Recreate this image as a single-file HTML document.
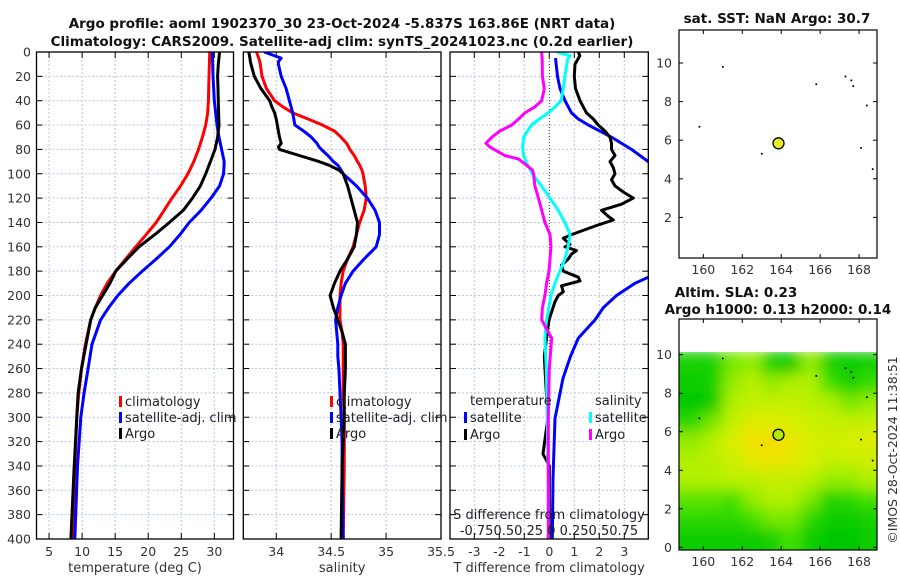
<!DOCTYPE html>
<html><head><meta charset="utf-8"><style>
html,body{margin:0;padding:0;background:#fff;}
svg{display:block;font-family:"DejaVu Sans","Liberation Sans",sans-serif;}
</style></head><body>
<svg id="fig" width="900" height="580" viewBox="0 0 900 580">
<defs>
<clipPath id="c1"><rect x="36.5" y="52" width="197" height="487"/></clipPath>
<clipPath id="c2"><rect x="243.3" y="52" width="197.7" height="487"/></clipPath>
<clipPath id="c3"><rect x="450" y="52" width="198.3" height="487"/></clipPath>
<clipPath id="cm"><rect x="679" y="352" width="198" height="198"/></clipPath>
<filter id="blur" x="-10%" y="-10%" width="120%" height="120%"><feGaussianBlur stdDeviation="7"/></filter>
</defs>
<g id="titles" font-weight="bold" font-size="13.5" fill="#111" text-anchor="middle">
<text x="342" y="28">Argo profile: aoml 1902370_30 23-Oct-2024 -5.837S 163.86E (NRT data)</text>
<text x="342" y="46">Climatology: CARS2009. Satellite-adj clim: synTS_20241023.nc (0.2d earlier)</text>
<text x="777" y="23">sat. SST: NaN Argo: 30.7</text>
<text x="736" y="297">Altim. SLA: 0.23</text>
<text x="778" y="314">Argo h1000: 0.13 h2000: 0.14</text>
</g>
<text x="897" y="450" font-size="12.5" fill="#333" text-anchor="middle" transform="rotate(-90 897 450)">©IMOS 28-Oct-2024 11:38:51</text>
<g id="layer"></g>
</svg>
<script>
// ---- depth axis ----
const depthTicks = [0,20,40,60,80,100,120,140,160,180,200,220,240,260,280,300,320,340,360,380,400];
// ---- temperature panel ----
const tempTicks = [5,10,15,20,25,30];
const depthT = [0,10,20,30,40,50,60,70,80,90,100,110,120,130,140,150,160,170,180,190,200,210,220,240,260,280,300,340,400];
const tempClim = [29.3,29.25,29.2,29.15,29.1,29.0,28.7,28.2,27.6,26.9,26.0,24.9,23.6,22.4,21.2,19.7,18.1,16.6,15.1,13.8,12.8,12.0,11.3,10.5,9.9,9.5,9.2,8.9,8.5];
const tempSat = [29.7,29.75,29.8,29.9,30.0,30.2,30.4,30.7,31.1,31.5,31.4,30.8,29.5,28.0,26.2,24.8,23.2,21.2,19.1,17.1,15.4,14.0,12.8,11.5,10.9,10.3,9.8,9.3,8.9];
const tempArgo = [30.8,30.6,30.5,30.55,30.6,30.65,30.7,30.5,30.1,29.4,28.7,27.9,26.7,25.3,23.2,21.0,18.6,16.8,15.1,14.2,13.1,12.0,11.3,10.6,9.9,9.4,9.2,8.8,8.3];
// ---- salinity panel ----
const salTicks = [34,34.5,35,35.5];
const depthS = [0,5,8,10,20,30,40,45,50,55,60,65,70,75,78,80,85,90,93,97,100,110,120,130,140,150,160,170,180,190,200,210,220,230,240,250,260,280,300,320,340,400];
const salClim = [33.82,33.84,33.85,33.855,33.87,33.91,33.985,34.06,34.15,34.29,34.42,34.53,34.59,34.64,34.66,34.67,34.71,34.74,34.76,34.78,34.79,34.81,34.82,34.80,34.76,34.73,34.70,34.65,34.61,34.59,34.58,34.58,34.58,34.60,34.61,34.61,34.61,34.61,34.62,34.62,34.62,34.61];
const salSat = [33.89,34.045,34.02,34.02,34.045,34.09,34.12,34.135,34.15,34.16,34.17,34.25,34.32,34.37,34.39,34.41,34.47,34.52,34.56,34.59,34.61,34.73,34.83,34.90,34.94,34.94,34.91,34.80,34.70,34.63,34.59,34.56,34.54,34.55,34.56,34.56,34.57,34.58,34.59,34.60,34.60,34.61];
const salArgo = [33.75,33.76,33.765,33.77,33.80,33.86,33.94,33.96,33.985,34.0,34.01,34.02,34.03,34.045,34.02,34.03,34.21,34.39,34.48,34.57,34.61,34.65,34.68,34.71,34.74,34.73,34.71,34.65,34.58,34.53,34.49,34.52,34.56,34.60,34.63,34.63,34.63,34.62,34.62,34.61,34.60,34.59];
// ---- difference panel ----
const diffTicks = [-3,-2,-1,0,1,2,3];
const depthSD = [0,3,6,20,30,40,45,50,55,60,65,70,75,78,82,85,88,93,97,100,110,120,130,140,150,160,170,180,190,200,210,220,230,235,260,300,360,400];
const sDiffSat = [0.074,0.21,0.185,0.158,0.141,0.118,0.06,-0.01,-0.1,-0.18,-0.22,-0.26,-0.265,-0.27,-0.265,-0.26,-0.245,-0.22,-0.19,-0.17,-0.08,0.007,0.09,0.158,0.21,0.19,0.158,0.108,0.057,0.017,-0.005,-0.027,-0.04,-0.044,-0.03,-0.02,-0.01,-0.01];
const sDiffArgo = [-0.077,-0.075,-0.072,-0.07,-0.05,-0.077,-0.145,-0.246,-0.31,-0.38,-0.50,-0.58,-0.64,-0.60,-0.515,-0.45,-0.31,-0.23,-0.17,-0.16,-0.145,-0.11,-0.077,-0.044,0.007,0.017,0.007,-0.003,-0.027,-0.044,-0.07,-0.077,-0.01,0.024,0.0,-0.01,-0.01,-0.01];
const depthTDSat = [5,20,30,40,50,55,60,70,80,90,100,140,170,180,185,190,200,210,220,235,250,268,301,350,400];
const tDiffSat = [0.25,0.33,0.43,0.63,0.89,1.16,1.56,2.49,3.29,3.96,4.6,5.5,5.0,4.3,3.96,3.43,2.69,2.16,1.83,1.16,0.85,0.55,0.23,0.15,0.12];
const depthTDArgo = [0,3,10,20,30,40,50,55,60,65,70,75,80,85,90,95,100,105,110,115,120,125,130,135,138,142,145,150,153,158,160,163,166,170,175,180,185,188,192,197,200,205,215,220,235,250,275,300,330,340,400];
const tDiffArgo = [1.16,1.22,1.03,1.0,1.05,1.23,1.49,1.76,1.96,2.23,2.43,2.49,2.49,2.63,2.43,2.56,2.63,2.49,2.63,2.96,3.36,2.89,2.09,2.36,2.56,1.96,1.56,0.89,0.56,0.83,0.63,1.09,0.89,0.76,0.49,0.56,1.16,1.23,0.49,0.56,0.36,0.23,0.07,-0.01,-0.11,-0.2,-0.13,-0.05,-0.25,0,0];
// ---- SLA map grid (rows lat 10->0, cols lon 159->169) ----
const slaRows = [
 [0.1,0.1,0.4,0.45,0.1,0.05,0.45,0.1,0.05,0.1],
 [0.05,0.1,0.45,0.55,0.45,0.5,0.5,0.3,0.1,0.25],
 [0.0,0.05,0.5,0.6,0.6,0.6,0.55,0.5,0.4,0.45],
 [0.2,0.4,0.6,0.75,0.75,0.7,0.65,0.6,0.6,0.6],
 [0.45,0.55,0.7,0.9,0.95,0.85,0.7,0.65,0.7,0.75],
 [0.5,0.55,0.65,0.8,0.85,0.8,0.7,0.6,0.6,0.65],
 [0.5,0.5,0.55,0.55,0.6,0.6,0.55,0.45,0.45,0.5],
 [0.35,0.35,0.3,0.45,0.5,0.5,0.4,0.15,0.2,0.3],
 [0.2,0.2,0.2,0.3,0.4,0.4,0.2,0.05,0.05,0.1],
 [0.05,0.05,0.05,0.05,0.1,0.3,0.05,0.0,0.0,0.05]];
const mapLonTicks = [160,162,164,166,168];
const mapLatTicks = [0,2,4,6,8,10];
const profileLon = [163.86];
const profileLat = [5.84];
const coastLon = [161.0,163.0,165.8,167.3,167.7,168.1,168.7,168.4,159.8,167.6];
const coastLat = [9.8,5.3,8.9,9.3,8.8,5.6,4.5,7.8,6.7,9.1];

const NS = "http://www.w3.org/2000/svg";
const layer = document.getElementById('layer');
function mk(tag, attrs, parent){ const e=document.createElementNS(NS,tag); for(const k in attrs) e.setAttribute(k,attrs[k]); (parent||layer).appendChild(e); return e; }

const yD = d => 52 + d*(487/400);
const xT = t => 36.5 + (t-3.1)*(197/(32.9-3.1));
const xS = s => 243.3 + (s-33.7)*(197.7/1.8);
const xTD = t => 549.3 + t*25;
const xSD = s => 549.3 + s*99;

const panels = [
 {x0:36.5,x1:233.5,ticks:tempTicks,fx:xT,title:"temperature (deg C)",name:"temperature"},
 {x0:243.3,x1:441,ticks:salTicks,fx:xS,title:"salinity",name:"salinity"},
 {x0:450,x1:648.3,ticks:diffTicks,fx:xTD,title:"T difference from climatology",name:"difference"}];

panels.forEach((p,i)=>{
  const g = mk('g',{});
  
  
  depthTicks.forEach(d=>{ if(d>0&&d<400) mk('line',{x1:p.x0,x2:p.x1,y1:yD(d),y2:yD(d),stroke:'#b8c4e4','stroke-width':1,'stroke-dasharray':'2,2'},g); });
  p.ticks.forEach(v=>{ const x=p.fx(v); if(i==2&&v==0) return; mk('line',{x1:x,x2:x,y1:52,y2:539,stroke:'#b8c4e4','stroke-width':1,'stroke-dasharray':'2,2'},g); });
  depthTicks.forEach(d=>{ mk('line',{x1:p.x0,x2:p.x0+6,y1:yD(d),y2:yD(d),stroke:'#000'},g); mk('line',{x1:p.x1-6,x2:p.x1,y1:yD(d),y2:yD(d),stroke:'#000'},g); });
  p.ticks.forEach(v=>{ const x=p.fx(v); mk('line',{x1:x,x2:x,y1:539,y2:533,stroke:'#000'},g); mk('line',{x1:x,x2:x,y1:52,y2:58,stroke:'#000'},g);
    const t=mk('text',{x:x,y:556,'font-size':12.5,fill:'#333','text-anchor':'middle'},g); t.textContent=String(v);
    
     });
  const at=mk('text',{x:(p.x0+p.x1)/2,y:572,'font-size':13,fill:'#333','text-anchor':'middle'},g); at.textContent=p.title;
  
  
});
depthTicks.forEach(d=>{ const t=mk('text',{x:31,y:yD(d)+4.5,'font-size':12.5,fill:'#333','text-anchor':'end'}); t.textContent=d;
  
   });
mk('line',{x1:xTD(0),x2:xTD(0),y1:52,y2:539,stroke:'#333','stroke-width':1,'stroke-dasharray':'1,2'});

function line(xs, ds, fx, color, clip, name, w){
  const pts = xs.map((v,k)=>fx(v).toFixed(1)+','+yD(ds[k]).toFixed(1)).join(' ');
  const pl = mk('polyline',{points:pts,fill:'none',stroke:color,'stroke-width':w||3,'stroke-linejoin':'round','clip-path':'url(#'+clip+')'});
  
  
}
line(tempClim, depthT, xT, '#ff0000','c1','temp-climatology-line');
line(tempSat, depthT, xT, '#0000ff','c1','temp-satellite-line');
line(tempArgo, depthT, xT, '#000','c1','temp-argo-line');
line(salClim, depthS, xS, '#ff0000','c2','sal-climatology-line');
line(salSat, depthS, xS, '#0000ff','c2','sal-satellite-line');
line(salArgo, depthS, xS, '#000','c2','sal-argo-line');
line(tDiffSat, depthTDSat, xTD, '#0000ff','c3','tdiff-satellite-line');
line(tDiffArgo, depthTDArgo, xTD, '#000','c3','tdiff-argo-line');
line(sDiffSat, depthSD, xSD, '#00ffff','c3','sdiff-satellite-line');
line(sDiffArgo, depthSD, xSD, '#ff00ff','c3','sdiff-argo-line');

panels.forEach(p=>{ const r=mk('rect',{x:p.x0,y:52,width:p.x1-p.x0,height:487,fill:'none',stroke:'#000','stroke-width':1.3});
  
   });

function legend(x,y,color,text,name){
  mk('rect',{x:x,y:y-10,width:3,height:11,fill:color});
  const t=mk('text',{x:x+6,y:y,'font-size':13,fill:'#222'}); t.textContent=text;
  
  
}
legend(119,406,'#ff0000','climatology','legend-temp-climatology');
legend(119,422,'#0000ff','satellite-adj. clim','legend-temp-satellite');
legend(119,438,'#000','Argo','legend-temp-argo');
legend(330,406,'#ff0000','climatology','legend-sal-climatology');
legend(330,422,'#0000ff','satellite-adj. clim','legend-sal-satellite');
legend(330,438,'#000','Argo','legend-sal-argo');
{ const t=mk('text',{x:470,y:405,'font-size':13,fill:'#222'}); t.textContent='temperature';
   
  const u=mk('text',{x:595,y:405,'font-size':13,fill:'#222'}); u.textContent='salinity';
    }
legend(464,422,'#0000ff','satellite','legend-tdiff-satellite');
legend(464,439,'#000','Argo','legend-tdiff-argo');
legend(589,422,'#00ffff','satellite','legend-sdiff-satellite');
legend(589,439,'#ff00ff','Argo','legend-sdiff-argo');
{ const t=mk('text',{x:549,y:519,'font-size':13,fill:'#222','text-anchor':'middle'}); t.textContent='S difference from climatology';
   
  const u=mk('text',{x:549,y:535,'font-size':13,fill:'#222','text-anchor':'middle'}); u.textContent='-0.750.50.25 0 0.250.50.75';
    }

const mLon = l => 679 + (l-158.75)*19.47;
const latTop = l => 256 - l*19.3;
const latBot = l => 547.3 - l*19.26;
function cmap(v){
  const st=[[0,[0,200,0]],[0.3,[64,224,0]],[0.5,[176,240,0]],[0.7,[216,240,0]],[0.9,[240,224,0]],[1,[248,216,0]]];
  for(let k=1;k<st.length;k++){ if(v<=st[k][0]){ const a=st[k-1],b=st[k],f=(v-a[0])/(b[0]-a[0]); return 'rgb('+a[1].map((c,j)=>Math.round(c+(b[1][j]-c)*f)).join(',')+')'; } }
  return 'rgb(248,216,0)';
}
const hg = mk('g',{'clip-path':'url(#cm)'});


const hb = mk('g',{filter:'url(#blur)'},hg);
slaRows.forEach((row,r)=>{ row.forEach((v,c)=>{
  const lat1 = 10 - r, lon0 = 159 + c;
  const x0 = mLon(lon0) - (c==0?20:0), x1 = mLon(lon0+1) + (c==row.length-1?20:0);
  const y0 = latBot(lat1 + (r==0?0.2:0)) , y1 = latBot(lat1-1) + (r==slaRows.length-1?20:0);
  const cell = mk('rect',{x:x0,y:y0,width:x1-x0+0.5,height:y1-y0+0.5,fill:cmap(v)},hb);
  
  
});});
[[30,258,latTop,'sst-map'],[319,550,latBot,'sla-map']].forEach(([y0,y1,fy,nm])=>{
  const fr = mk('rect',{x:679,y:y0,width:198,height:y1-y0,fill:'none',stroke:'#000','stroke-width':1.2});
  
  
  mapLonTicks.forEach(l=>{ const x=mLon(l); mk('line',{x1:x,x2:x,y1:y1,y2:y1-4,stroke:'#000'}); mk('line',{x1:x,x2:x,y1:y0,y2:y0+4,stroke:'#000'});
    const t=mk('text',{x:x,y:y1+16,'font-size':12.5,fill:'#333','text-anchor':'middle'}); t.textContent=l;
      });
  mapLatTicks.forEach(l=>{ const y=fy(l); if(nm=='sst-map'&&l==0) return; mk('line',{x1:679,x2:683,y1:y,y2:y,stroke:'#000'}); mk('line',{x1:877,x2:873,y1:y,y2:y,stroke:'#000'});
    const t=mk('text',{x:672,y:y+4.5,'font-size':12.5,fill:'#333','text-anchor':'end'}); t.textContent=l;
      });
  coastLon.forEach((l,k)=>{ const d=mk('circle',{cx:mLon(l),cy:fy(coastLat[k]),r:1,fill:'#000'});
      });
  profileLon.forEach((l,k)=>{ const c=mk('circle',{cx:mLon(l),cy:fy(profileLat[k]),r:5.5,fill:nm=='sst-map'?'#e8e820':'#b4ec00',stroke:'#000','stroke-width':1.3});
      });
});
</script>
</body></html>
